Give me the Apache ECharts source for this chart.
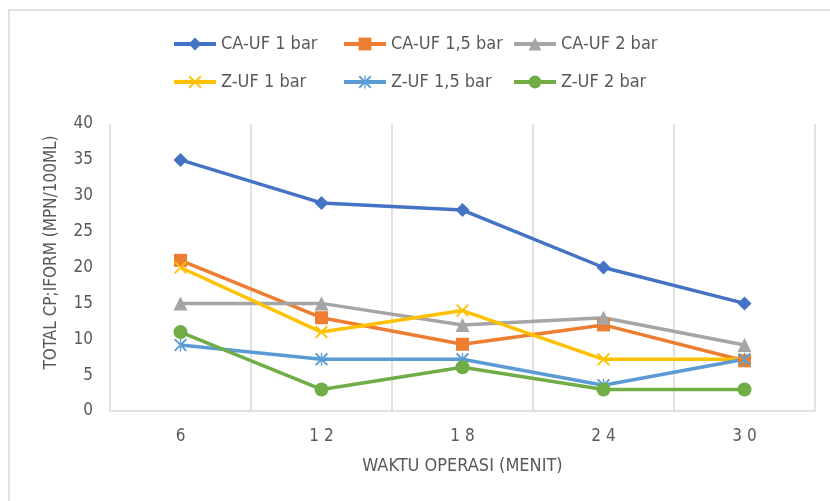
<!DOCTYPE html>
<html>
<head>
<meta charset="utf-8">
<script src="https://cdn.jsdelivr.net/npm/echarts@6/dist/echarts.min.js"></script>
<style>
  html, body { margin: 0; padding: 0; background: #fff; }
  #main { width: 830px; height: 501px; }
</style>
</head>
<body>
<div id="main"></div>
<script>
// waktu operasi (menit)
var waktu = ['6', '12', '18', '24', '30'];

var caUf1 = [35, 29, 28, 20, 15];
var caUf15 = [21, 13, 9.3, 12, 7];
var caUf2 = [15, 15, 12, 13, 9.2];
var zUf1 = [20, 11, 14, 7.2, 7.2];
var zUf15 = [9.2, 7.2, 7.2, 3.6, 7.2];
var zUf2 = [11, 3, 6.1, 3, 3];

var names = ['CA-UF 1 bar', 'CA-UF 1,5 bar', 'CA-UF 2 bar', 'Z-UF 1 bar', 'Z-UF 1,5 bar', 'Z-UF 2 bar'];
var colors = ['#4472C4', '#ED7D31', '#A5A5A5', '#FFC000', '#5B9BD5', '#70AD47'];

var xMark = 'path://M2,0L0,2L18,20L20,18ZM18,0L20,2L2,20L0,18Z';
var starMark = 'path://M2,0L0,2L18,20L20,18ZM18,0L20,2L2,20L0,18ZM9,0L11,0L11,20L9,20Z';

var txt = '#595959';
var font = 'DejaVu Sans Condensed, DejaVu Sans';

function mkSeries(name, data, color, symbol, size) {
	return {
		name: name,
		type: 'line',
		data: data,
		symbol: symbol,
		symbolSize: size,
		color: color,
		lineStyle: { width: 3.5, color: color },
		itemStyle: { color: color },
		emphasis: { disabled: true },
		animation: false
	};
}

var series = [
	mkSeries(names[0], caUf1, colors[0], 'diamond', 14),
	mkSeries(names[1], caUf15, colors[1], 'rect', 13),
	mkSeries(names[2], caUf2, colors[2], 'triangle', 14),
	mkSeries(names[3], zUf1, colors[3], xMark, 13),
	mkSeries(names[4], zUf15, colors[4], starMark, 13),
	mkSeries(names[5], zUf2, colors[5], 'circle', 14)
];

// legend grid: 3 columns x 2 rows, like the excel one
var legCols = [172, 342, 512];
var legRows = [35, 73];
var legends = [];
for (var i = 0; i < names.length; i++) {
	legends.push({
		data: [names[i]],
		left: legCols[i % 3],
		top: legRows[Math.floor(i / 3)],
		padding: 0,
		itemWidth: 42,
		itemHeight: 16,
		itemGap: 0,
		selectedMode: false,
		lineStyle: { width: 4 },
		textStyle: { color: txt, fontSize: 18, fontFamily: font, padding: [0, 0, 0, 0] }
	});
}

var chart = echarts.init(document.getElementById('main'));
chart.setOption({
	backgroundColor: '#fff',
	animation: false,
	graphic: [{
		type: 'rect',
		shape: { x: 9, y: 10, width: 840, height: 520 },
		style: { fill: 'none', stroke: '#d9d9d9', lineWidth: 1.5 },
		silent: true
	}],
	legend: legends,
	grid: { left: 110, right: 15, top: 124, bottom: 90 },
	xAxis: {
		type: 'category',
		data: waktu,
		boundaryGap: true,
		name: 'WAKTU OPERASI (MENIT)',
		nameLocation: 'middle',
		nameGap: 46,
		nameTextStyle: { color: txt, fontSize: 18, fontFamily: font },
		axisLine: { show: true, lineStyle: { color: '#d9d9d9', width: 1.5 } },
		axisTick: { show: false },
		axisLabel: {
			color: txt, fontSize: 17, fontFamily: font, margin: 17,
			formatter: function(v) { return v.split('').join(' '); }
		},
		splitLine: { show: true, lineStyle: { color: '#d9d9d9', width: 1.5 } }
	},
	yAxis: {
		type: 'value',
		min: 0,
		max: 40,
		interval: 5,
		name: 'TOTAL CP;IFORM (MPN/100ML)',
		nameLocation: 'middle',
		nameGap: 50,
		nameTextStyle: { color: txt, fontSize: 17, fontFamily: font, padding: [0, 0, 0, 30] },
		axisLine: { show: false },
		axisTick: { show: false },
		axisLabel: { color: txt, fontSize: 17, fontFamily: font, margin: 17 },
		splitLine: { show: false }
	},
	series: series
});
</script>
</body>
</html>
